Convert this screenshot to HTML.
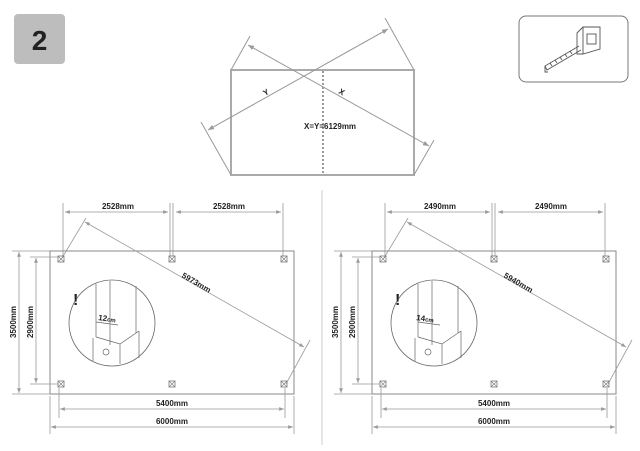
<!DOCTYPE html><html><head><style>body{margin:0;background:#fff}svg{display:block}text{font-family:"Liberation Sans",sans-serif;font-weight:bold;fill:#222}</style></head><body>
<svg width="640" height="451" viewBox="0 0 640 451" xmlns="http://www.w3.org/2000/svg">
<defs><marker id="a" viewBox="0 0 10 10" refX="10" refY="5" markerWidth="6" markerHeight="6" orient="auto-start-reverse"><path d="M0,1L10,5L0,9z" fill="#999"/></marker>
<g id="post"><rect x="-3" y="-3" width="6" height="6" fill="none" stroke="#777" stroke-width="0.8"/><path d="M-3,-3L3,3M3,-3L-3,3" stroke="#777" stroke-width="0.6"/></g></defs>
<rect x="14" y="14" width="51" height="50" rx="4" fill="#bdbdbd"/>
<text x="39.5" y="50" font-size="28" text-anchor="middle" fill="#222">2</text>
<rect x="519" y="16" width="109" height="66" rx="7" fill="#fff" stroke="#777" stroke-width="1"/>
<g fill="none" stroke="#555" stroke-width="0.9"><path d="M577,33l6,-6 17,0 0,22 -17,5 -6,0z"/><path d="M583,27v27"/><rect x="587" y="34" width="9" height="10"/><path d="M579,46 l-34,20 2,4 34,-20"/><path d="M550,63l2,3M555,60l2,3M560,57l2,3M565,54l2,3M570,51l2,3M545,66v6h3"/></g>
<g stroke="#999" stroke-width="1" fill="none">
<rect x="231" y="70" width="183" height="105" stroke="#aaa" stroke-width="2"/>
<line x1="323" y1="71" x2="323" y2="174" stroke-dasharray="2,2" stroke-width="2"/>
<line x1="208" y1="130" x2="388" y2="29" marker-start="url(#a)" marker-end="url(#a)"/>
<line x1="248" y1="45" x2="429" y2="146" marker-start="url(#a)" marker-end="url(#a)"/>
<path d="M231,70L250,36M414,70L385,18M231,175L201,122M414,175L434,140"/>
</g>
<text x="265" y="96" font-size="8" transform="rotate(-30 265 96)">Y</text>
<text x="338" y="93" font-size="8" transform="rotate(30 338 93)">X</text>
<text x="304" y="129" font-size="8">X=Y=6129mm</text>
<line x1="322" y1="190" x2="322" y2="445" stroke="#ccc"/>
<g id="panel">
<g stroke="#999" stroke-width="0.8" fill="none">
<rect x="50" y="251" width="244" height="143" stroke="#888" stroke-width="1"/>
<path d="M63,203V256M170,203V256M173,203V256M283,203V256"/>
<line x1="65" y1="212" x2="168" y2="212" marker-start="url(#a)" marker-end="url(#a)"/>
<line x1="176" y1="212" x2="281" y2="212" marker-start="url(#a)" marker-end="url(#a)"/>
<path d="M12,251H50M30,257H58M30,384H58M12,394H50"/>
<line x1="19" y1="252" x2="19" y2="393" marker-start="url(#a)" marker-end="url(#a)"/>
<line x1="36" y1="258" x2="36" y2="383" marker-start="url(#a)" marker-end="url(#a)"/>
<path d="M59,388V418M285,388V418M50,396V434M294,396V434"/>
<line x1="60" y1="409" x2="284" y2="409" marker-start="url(#a)" marker-end="url(#a)"/>
<line x1="51" y1="427" x2="293" y2="427" marker-start="url(#a)" marker-end="url(#a)"/>
<path d="M62,258L86,218M286,384L310,340"/>
<line x1="85" y1="222" x2="304" y2="347" marker-start="url(#a)" marker-end="url(#a)"/>
</g>
<use href="#post" x="61" y="259"/><use href="#post" x="172" y="259"/><use href="#post" x="284" y="259"/>
<use href="#post" x="61" y="384"/><use href="#post" x="172" y="384"/><use href="#post" x="284" y="384"/>
<circle cx="112" cy="323" r="43" fill="#fff" stroke="#666" stroke-width="0.8"/>
<g stroke="#666" stroke-width="0.7" fill="none"><path d="M96,284V337M110,281V345M136,286V333M96,337L120,344L139,331M93,338V361M120,344V364M139,331V358M96,322L118,325"/></g>
<circle cx="106" cy="352" r="3" fill="none" stroke="#666" stroke-width="0.7"/>
<text x="73" y="305" font-size="16" fill="#111">!</text>
</g>
<use href="#panel" x="322" y="0"/>
<text x="118" y="209" font-size="8" text-anchor="middle">2528mm</text>
<text x="229" y="209" font-size="8" text-anchor="middle">2528mm</text>
<text x="172" y="406" font-size="8" text-anchor="middle">5400mm</text>
<text x="172" y="424" font-size="8" text-anchor="middle">6000mm</text>
<text x="16" y="322" font-size="8" text-anchor="middle" transform="rotate(-90 16 322)">3500mm</text>
<text x="33" y="322" font-size="8" text-anchor="middle" transform="rotate(-90 33 322)">2900mm</text>
<text x="195" y="285" font-size="8" text-anchor="middle" transform="rotate(30 195 285)">5973mm</text>
<text x="98" y="320" font-size="8" font-weight="normal" transform="rotate(8 98 320)">12<tspan font-size="6">cm</tspan></text>
<text x="440" y="209" font-size="8" text-anchor="middle">2490mm</text>
<text x="551" y="209" font-size="8" text-anchor="middle">2490mm</text>
<text x="494" y="406" font-size="8" text-anchor="middle">5400mm</text>
<text x="494" y="424" font-size="8" text-anchor="middle">6000mm</text>
<text x="338" y="322" font-size="8" text-anchor="middle" transform="rotate(-90 338 322)">3500mm</text>
<text x="355" y="322" font-size="8" text-anchor="middle" transform="rotate(-90 355 322)">2900mm</text>
<text x="517" y="285" font-size="8" text-anchor="middle" transform="rotate(30 517 285)">5940mm</text>
<text x="416" y="320" font-size="8" font-weight="normal" transform="rotate(8 416 320)">14<tspan font-size="6">cm</tspan></text>
</svg></body></html>
